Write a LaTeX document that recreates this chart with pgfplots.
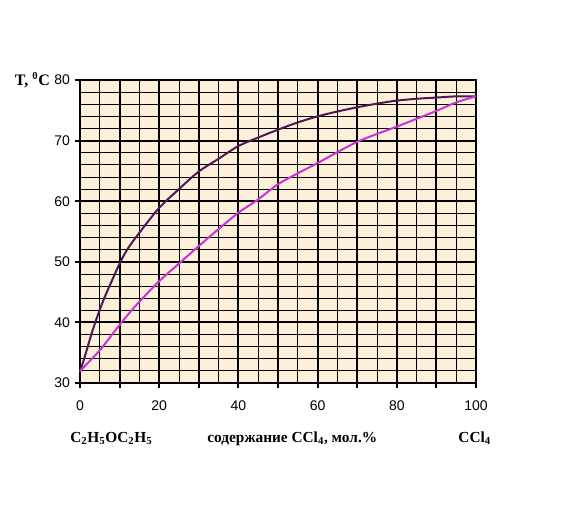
\documentclass[border=0pt]{standalone}
\usepackage{fontspec}
\setmainfont{Liberation Serif}
\setsansfont{Liberation Sans}
\usepackage{pgfplots}
\pgfplotsset{compat=1.18}
\definecolor{paper}{RGB}{252,240,217}
\definecolor{plum}{RGB}{80,22,88}
\definecolor{orchid}{RGB}{204,51,214}

\begin{document}
\begin{tikzpicture}
\useasboundingbox (-60pt,-99.75pt) rectangle (363pt,287.25pt);
\begin{axis}[
  at={(0,0)}, anchor=south west,
  scale only axis, width=297pt, height=227.25pt,
  xmin=0, xmax=100, ymin=30, ymax=80,
  clip=false,
  xtick={0,10,...,100},
  xticklabels={0,,20,,40,,60,,80,,100},
  ytick={30,40,...,80},
  minor x tick num=1, minor y tick num=4,
  grid=both,
  major grid style={black, line width=1.5pt},
  minor grid style={black, line width=0.6pt},
  axis background/.style={fill=paper},
  axis line style={line width=2pt},
  tick pos=left, tick align=outside,
  major tick length=4pt, minor tick length=0pt,
  every tick/.style={black, line width=1.5pt},
  ticklabel style={font=\sffamily\fontsize{10.5}{12}\selectfont},
  /pgf/number format/assume math mode=true,
  xticklabel style={yshift=-6pt},
]
% upper curve
\addplot[plum, line width=1.5pt, smooth, tension=0.5] coordinates {
  (0,31.8) (1.5,35) (3,38.3) (4.5,41.2) (6,43.8) (7.8,46.5) (10,49.7)
  (12,52.1) (15,54.8) (20,58.9) (25,62) (30,64.9) (35,67) (40,69.1)
  (45,70.5) (50,71.8) (55,73) (60,74) (65,74.8) (70,75.5) (75,76.1)
  (80,76.6) (85,76.9) (90,77.1) (95,77.3) (100,77.3)
};
% lower curve
\addplot[orchid, line width=1.5pt, smooth, tension=0.5] coordinates {
  (0,32) (5,35.4) (10,39.6) (14,42.7) (20,46.8) (25,49.7) (30,52.6)
  (35,55.4) (40,58.1) (45,60.3) (50,62.8) (55,64.6) (60,66.3)
  (65,68.1) (70,69.8) (75,71.1) (80,72.3) (85,73.6) (90,74.9) (95,76.3)
  (100,77.3)
};
\node[anchor=east, font=\bfseries\fontsize{12}{14}\selectfont, xshift=-19pt]
  at (rel axis cs:0,1) {T, \textsuperscript{0}C};
\node[anchor=base west, font=\bfseries\fontsize{11.5}{14}\selectfont, yshift=-44.5pt, inner sep=0pt]
  at (axis cs:-2.5,30) {C\textsubscript{2}H\textsubscript{5}OC\textsubscript{2}H\textsubscript{5}};
\node[anchor=base west, font=\bfseries\fontsize{11.5}{14}\selectfont, yshift=-44.5pt, inner sep=0pt]
  at (axis cs:32.1,30) {содержание CCl\textsubscript{4}, мол.\%};
\node[anchor=base west, font=\bfseries\fontsize{11.5}{14}\selectfont, yshift=-44.5pt, inner sep=0pt]
  at (axis cs:95.5,30) {CCl\textsubscript{4}};
\end{axis}
\end{tikzpicture}
\end{document}
